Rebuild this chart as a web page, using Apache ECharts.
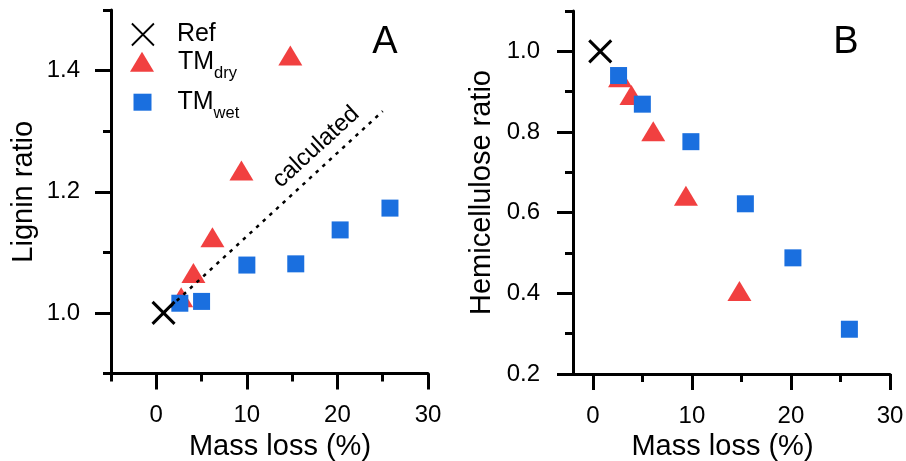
<!DOCTYPE html>
<html>
<head>
<meta charset="utf-8">
<script src="https://cdn.jsdelivr.net/npm/echarts@6/dist/echarts.min.js"></script>
<style>html,body{margin:0;padding:0;background:#fff}#c{width:906px;height:461px}</style>
</head>
<body>
<div id="c"></div>
<script>
const FONT = "'Liberation Sans', Arial, Helvetica, sans-serif";
// ---- Panel A: lignin ratio vs mass loss ----
const refLossA = [0.8];
const refLignin = [1.0];
const dryLossA = [2.75, 4.1, 6.2, 9.4, 14.8];
const dryLignin = [1.026, 1.066, 1.125, 1.235, 1.425];
const wetLossA = [2.6, 5.0, 10.0, 15.4, 20.3, 25.8];
const wetLignin = [1.016, 1.019, 1.079, 1.081, 1.137, 1.173];
const calcLoss = [0.8, 25.0];
const calcLignin = [1.0, 1.333];
// ---- Panel B: hemicellulose ratio vs mass loss ----
const refLossB = [0.75];
const refHemi = [1.0];
const dryLossB = [2.75, 3.9, 6.1, 9.4, 14.8];
const dryHemi = [0.936, 0.892, 0.802, 0.642, 0.406];
const wetLossB = [2.6, 5.0, 9.9, 15.4, 20.2, 25.9];
const wetHemi = [0.94, 0.869, 0.776, 0.622, 0.488, 0.311];
// ---- ticks ----
const xMajor = [0, 10, 20, 30];
const xMinorA = [-5, 5, 15, 25];
const xMinorB = [5, 15, 25];
const yMajorA = [1.0, 1.2, 1.4];
const yMinorA = [0.9, 1.1, 1.3, 1.5];
const yMajorB = [0.2, 0.4, 0.6, 0.8, 1.0];
const yMinorB = [0.3, 0.5, 0.7, 0.9, 1.1];

const RED = '#F14040', BLUE = '#1A6FDF', BLACK = '#000';
const XPATH = 'path://M0,0L10,10M10,0L0,10';
const pts = (xs, ys) => xs.map((x, i) => [x, ys[i]]);

function majorAxis(o) {
  return {
    type: 'value', gridIndex: o.grid, min: o.min, max: o.max, position: o.pos,
    axisLine: {show: true, onZero: false, lineStyle: {color: BLACK, width: 3}},
    axisTick: {show: true, customValues: o.major, length: 16, lineStyle: {color: BLACK, width: 3}},
    axisLabel: {show: true, customValues: o.major, margin: o.margin, color: BLACK,
      fontSize: 24, fontFamily: FONT, formatter: o.fmt},
    splitLine: {show: false},
    name: o.name, nameLocation: 'middle', nameGap: o.nameGap, nameRotate: o.nameRotate,
    nameTextStyle: {color: BLACK, fontSize: 29, fontFamily: FONT, padding: o.namePad || 0}
  };
}
function minorAxis(o) {
  return {
    type: 'value', gridIndex: o.grid, min: o.min, max: o.max, position: o.pos,
    axisLine: {show: false, onZero: false},
    axisTick: {show: true, customValues: o.minor, length: 8, lineStyle: {color: BLACK, width: 3}},
    axisLabel: {show: false}, splitLine: {show: false}
  };
}
const fmt1 = v => Number(v).toFixed(1);
const fmt0 = v => String(Math.round(v));

const xA = {grid: 0, min: -5, max: 30, pos: 'bottom', major: xMajor, minor: xMinorA, margin: 30,
  fmt: fmt0, name: 'Mass loss (%)', nameGap: 58, namePad: [0, 0, 0, 21]};
const xB = {grid: 1, min: -2, max: 30, pos: 'bottom', major: xMajor, minor: xMinorB, margin: 30,
  fmt: fmt0, name: 'Mass loss (%)', nameGap: 58, namePad: [0, 18, 0, 0]};
const yA = {grid: 0, min: 0.9, max: 1.5, pos: 'left', major: yMajorA, minor: yMinorA, margin: 31,
  fmt: fmt1, name: 'Lignin ratio', nameGap: 73, nameRotate: 90};
const yB = {grid: 1, min: 0.2, max: 1.1, pos: 'left', major: yMajorB, minor: yMinorB, margin: 33,
  fmt: fmt1, name: 'Hemicellulose ratio', nameGap: 77, nameRotate: 90};

const triStyle = {color: RED, opacity: 1};
const sqStyle = {color: BLUE, opacity: 1};
const xStyle = {color: BLACK, borderColor: BLACK, borderWidth: 3, opacity: 1};

const legendRich = {
  g1: {width: 18}, g2: {width: 19}, g3: {width: 21},
  n: {fontSize: 25, lineHeight: 26, fontFamily: FONT, color: BLACK, verticalAlign: 'middle'},
  s: {fontSize: 16.5, lineHeight: 17, fontFamily: FONT, color: BLACK, verticalAlign: 'top', padding: [16, 0, 0, 0]}
};
function legend(name, fmtStr, left, top, w, h) {
  return {
    show: true, orient: 'vertical', left: left, top: top, padding: 0,
    itemWidth: w, itemHeight: h, selectedMode: false,
    data: [name],
    formatter: () => fmtStr,
    textStyle: {fontFamily: FONT, fontSize: 25, color: BLACK, rich: legendRich}
  };
}

const option = {
  backgroundColor: '#fff',
  animation: false,
  grid: [
    {left: 111, top: 10, width: 317, height: 363.5, outerBoundsMode: 'none'},
    {left: 573, top: 11, width: 317, height: 363, outerBoundsMode: 'none'}
  ],
  xAxis: [majorAxis(xA), minorAxis(xA), majorAxis(xB), minorAxis(xB)],
  yAxis: [majorAxis(yA), minorAxis(yA), majorAxis(yB), minorAxis(yB)],
  legend: [
    legend({name: 'Ref', icon: XPATH, itemStyle: {color: BLACK, borderColor: BLACK, borderWidth: 1.8, opacity: 1}},
      '{g1|}{n|Ref}', 131, 22, 22, 22),
    legend('TMdry', '{g2|}{n|TM}{s|dry}', 130, 48.7, 24, 20),
    legend('TMwet', '{g3|}{n|TM}{s|wet}', 133.5, 89.2, 18, 17)
  ],
  series: [
    {name: 'TMdry', type: 'scatter', xAxisIndex: 0, yAxisIndex: 0, symbol: 'triangle', symbolSize: [24, 20],
      itemStyle: triStyle, data: pts(dryLossA, dryLignin)},
    {name: 'TMwet', type: 'scatter', xAxisIndex: 0, yAxisIndex: 0, symbol: 'rect', symbolSize: [17, 17],
      itemStyle: sqStyle, data: pts(wetLossA, wetLignin)},
    {name: 'calculated', type: 'line', xAxisIndex: 0, yAxisIndex: 0, symbol: 'none',
      lineStyle: {color: BLACK, width: 2.5, type: [3.5, 5.5]}, data: pts(calcLoss, calcLignin)},
    {name: 'Ref', type: 'scatter', xAxisIndex: 0, yAxisIndex: 0, symbol: XPATH, symbolSize: 22,
      itemStyle: xStyle, data: pts(refLossA, refLignin)},
    {name: 'TMdry', type: 'scatter', xAxisIndex: 2, yAxisIndex: 2, symbol: 'triangle', symbolSize: [24, 20],
      itemStyle: triStyle, data: pts(dryLossB, dryHemi)},
    {name: 'TMwet', type: 'scatter', xAxisIndex: 2, yAxisIndex: 2, symbol: 'rect', symbolSize: [17, 17],
      itemStyle: sqStyle, data: pts(wetLossB, wetHemi)},
    {name: 'Ref', type: 'scatter', xAxisIndex: 2, yAxisIndex: 2, symbol: XPATH, symbolSize: 22,
      itemStyle: xStyle, data: pts(refLossB, refHemi)}
  ],
  graphic: [
    {type: 'text', x: 316, y: 147, rotation: 42.5 * Math.PI / 180,
      style: {text: 'calculated', fontSize: 24, fontFamily: FONT, fill: BLACK, align: 'center', verticalAlign: 'middle'}},
    {type: 'text', x: 385, y: 43,
      style: {text: 'A', fontSize: 38, fontFamily: FONT, fill: BLACK, align: 'center', verticalAlign: 'middle'}},
    {type: 'text', x: 846, y: 43,
      style: {text: 'B', fontSize: 38, fontFamily: FONT, fill: BLACK, align: 'center', verticalAlign: 'middle'}}
  ]
};
const chart = echarts.init(document.getElementById('c'), null, {renderer: 'canvas'});
chart.setOption(option);
</script>
</body>
</html>
